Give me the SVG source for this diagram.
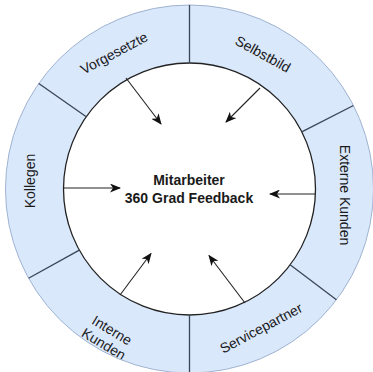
<svg xmlns="http://www.w3.org/2000/svg" width="373" height="372" viewBox="0 0 373 372">
  <style>
    .seg { fill: #dae8fc; stroke: none; }
    .lbl { font-family: "Liberation Sans", Arial, sans-serif; font-size: 14px; fill: #1a1a1a; text-anchor: middle; }
    .ctr { font-family: "Liberation Sans", Arial, sans-serif; font-size: 14px; font-weight: bold; fill: #1a1a1a; text-anchor: middle; }
    .div { stroke: #3a4657; stroke-width: 1.3; fill: none; }
    .conn { stroke: #222; stroke-width: 1.1; fill: none; marker-end: url(#ah); }
  </style>
  <defs>
    <marker id="ah" markerWidth="11" markerHeight="9" refX="10" refY="4.5" orient="auto" markerUnits="userSpaceOnUse">
      <path d="M0,0 L11,4.5 L0,9 L3,4.5 Z" fill="#111"/>
    </marker>
  </defs>
  <rect width="373" height="372" fill="#ffffff"/>

  <g id="vorgesetzte">
    <path class="seg" d="M38.77,83.46 A184,184 0 0 1 189.5,5 L189.5,63 A126,126 0 0 0 86.28,116.73 Z"/>
    <text class="lbl" transform="translate(114,53) rotate(-28)" y="5">Vorgesetzte</text>
  </g>
  <g id="selbstbild">
    <path class="seg" d="M189.5,5 A184,184 0 0 1 353.44,105.46 L301.77,131.8 A126,126 0 0 0 189.5,63 Z"/>
    <text class="lbl" transform="translate(263,54) rotate(29)" y="5">Selbstbild</text>
  </g>
  <g id="externe-kunden">
    <path class="seg" d="M353.44,105.46 A184,184 0 0 1 336.44,299.73 L290.12,264.83 A126,126 0 0 0 301.77,131.8 Z"/>
    <text class="lbl" transform="translate(345,195) rotate(90)" y="5">Externe Kunden</text>
  </g>
  <g id="servicepartner">
    <path class="seg" d="M336.44,299.73 A184,184 0 0 1 189.5,373 L189.5,315 A126,126 0 0 0 290.12,264.83 Z"/>
    <text class="lbl" transform="translate(261,328) rotate(-28)" y="5">Servicepartner</text>
  </g>
  <g id="interne-kunden">
    <path class="seg" d="M189.5,373 A184,184 0 0 1 28.57,278.2 L79.3,250.08 A126,126 0 0 0 189.5,315 Z"/>
    <text class="lbl" transform="translate(108,337) rotate(31)"><tspan x="0" y="-3">Interne</tspan><tspan x="0" y="13">Kunden</tspan></text>
  </g>
  <g id="kollegen">
    <path class="seg" d="M28.57,278.2 A184,184 0 0 1 38.77,83.46 L86.28,116.73 A126,126 0 0 0 79.3,250.08 Z"/>
    <text class="lbl" transform="translate(30,181) rotate(-90)" y="5">Kollegen</text>
  </g>

  <g id="ring-lines">
    <circle cx="189.5" cy="189" r="184" fill="none" stroke="#9fb3d1" stroke-width="1"/>
    <circle cx="189.5" cy="189" r="126" fill="none" stroke="#222" stroke-width="1.3"/>
    <line class="div" x1="189.5" y1="5" x2="189.5" y2="63"/>
    <line class="div" x1="353.44" y1="105.46" x2="301.77" y2="131.8"/>
    <line class="div" x1="336.44" y1="299.73" x2="290.12" y2="264.83"/>
    <line class="div" x1="189.5" y1="373" x2="189.5" y2="315"/>
    <line class="div" x1="28.57" y1="278.2" x2="79.3" y2="250.08"/>
    <line class="div" x1="38.77" y1="83.46" x2="86.28" y2="116.73"/>
  </g>

  <g id="center">
    <text class="ctr" x="189" y="184.5">Mitarbeiter</text>
    <text class="ctr" x="189" y="202.5">360 Grad Feedback</text>
  </g>

  <g id="connectors">
    <line class="conn" x1="126" y1="78" x2="161" y2="124"/>
    <line class="conn" x1="260" y1="88" x2="226" y2="122"/>
    <line class="conn" x1="63.5" y1="188" x2="120" y2="188"/>
    <line class="conn" x1="315.5" y1="194" x2="270" y2="194"/>
    <line class="conn" x1="120" y1="295" x2="151" y2="253.5"/>
    <line class="conn" x1="245" y1="303" x2="209" y2="255.5"/>
  </g>
</svg>
